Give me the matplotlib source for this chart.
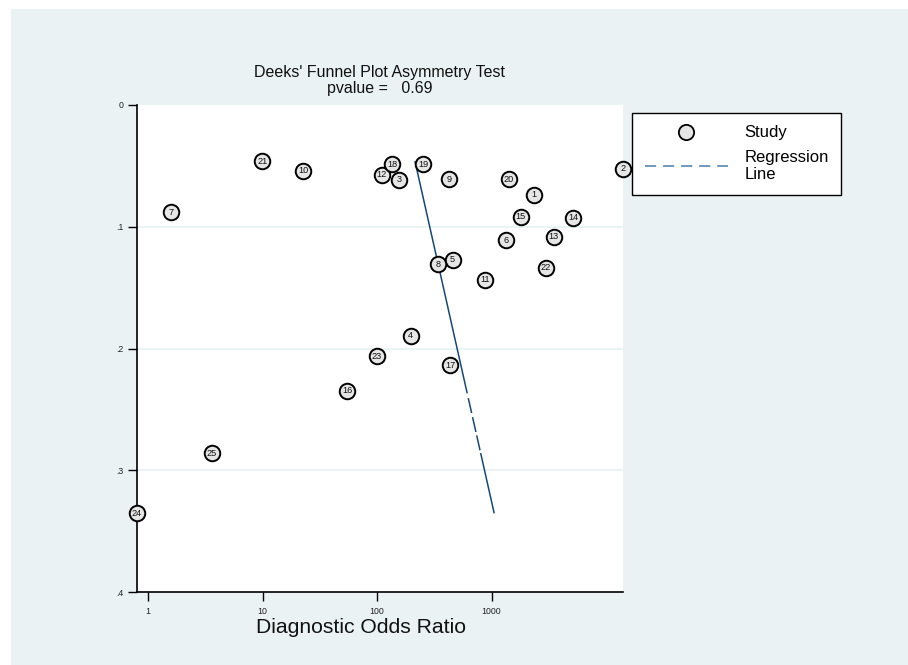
import numpy as np
import matplotlib
matplotlib.use("Agg")
import matplotlib.pyplot as plt
from matplotlib.lines import Line2D
from matplotlib.patches import Rectangle

plt.rcParams['font.family'] = ['Liberation Sans', 'DejaVu Sans']
plt.rcParams['lines.scale_dashes'] = False

# ---- data ----
study_ids = [1, 2, 3, 4, 5, 6, 7, 8, 9, 10, 11, 12, 13, 14, 15, 16, 17, 18, 19, 20, 21, 22, 23, 24, 25]
dor = [2366, 14160, 155, 197, 458, 1339, 1.59, 339, 428, 22.7, 878, 110, 3493, 5150, 1799,
       54.7, 434, 135, 254, 1413, 9.96, 2973, 100, 0.797, 3.62]
inv_sqrt_ess = [0.0739, 0.0523, 0.0614, 0.1895, 0.1273, 0.1111, 0.0879, 0.1306, 0.0608, 0.0542,
                0.1437, 0.0572, 0.1082, 0.0926, 0.0917, 0.2347, 0.2136, 0.0487, 0.0487, 0.0608,
                0.0460, 0.1336, 0.2062, 0.3354, 0.2861]
reg_intercept_log10 = 2.221
reg_slope_log10 = 2.393
x_ticks = [1, 10, 100, 1000]
x_ticklabels = ["1", "10", "100", "1000"]
y_ticks = [0, 0.1, 0.2, 0.3, 0.4]
y_ticklabels = ["0", ".1", ".2", ".3", ".4"]
title1 = "Deeks' Funnel Plot Asymmetry Test"
title2 = "pvalue =   0.69"
xlabel = "Diagnostic Odds Ratio"

BG = '#EAF2F3'
NAVY = '#1a476f'
W, H = 908, 665

fig = plt.figure(figsize=(W / 100, H / 100), dpi=100, facecolor='white')
fig.patches.append(Rectangle((11 / W, 0), 1, 1 - 9 / H, transform=fig.transFigure,
                             facecolor=BG, edgecolor='none', zorder=-10))

ax = fig.add_axes([137 / W, 1 - 592 / H, 486 / W, 487 / H])
ax.set_facecolor('white')
ax.set_xscale('log')
ax.set_xlim(0.8015, 14070)
ax.set_ylim(0.4, 0)

for s in ['top', 'right']:
    ax.spines[s].set_visible(False)
for s in ['left', 'bottom']:
    ax.spines[s].set_color('black')
    ax.spines[s].set_linewidth(1.2)

ax.set_xticks(x_ticks)
ax.set_xticklabels(x_ticklabels)
ax.xaxis.set_minor_locator(matplotlib.ticker.NullLocator())
ax.set_yticks(y_ticks)
ax.set_yticklabels(y_ticklabels)
ax.tick_params(axis='both', length=6.5, width=1.0, color='black', labelsize=6.3,
               labelcolor='#222222')
ax.tick_params(axis='x', pad=4)
ax.tick_params(axis='y', pad=3)

for yv in y_ticks[1:-1]:
    ax.axhline(yv, color=BG, lw=1.3, zorder=0.5)

# regression line
y_line = np.array([min(inv_sqrt_ess), max(inv_sqrt_ess)])
x_line = 10 ** (reg_intercept_log10 + reg_slope_log10 * y_line)
ax.plot(x_line, y_line, color=NAVY, lw=1.1, zorder=2,
        dashes=(171.5, 3.5, 11, 3, 11, 2.5, 11, 2, 60))

# studies
ax.scatter(dor, inv_sqrt_ess, s=125, facecolor='#E6E6E6', edgecolor='black',
           linewidths=1.4, zorder=3, clip_on=False)
for sid, xv, yv in zip(study_ids, dor, inv_sqrt_ess):
    ax.text(xv, yv, str(sid), ha='center', va='center', fontsize=6.6,
            color='#111111', zorder=4, clip_on=False)

# titles
fig.text(380 / W, 1 - 72 / H, title1, ha='center', va='center', fontsize=11.5, color='#111111')
fig.text(380 / W, 1 - 88 / H, title2, ha='center', va='center', fontsize=11.5, color='#111111')
fig.text(361 / W, 1 - 633 / H, xlabel, ha='center', va='baseline', fontsize=15.2, color='#111111')

# legend
handles = [
    Line2D([], [], linestyle='none', marker='o', markersize=11, markerfacecolor='#E6E6E6',
           markeredgecolor='black', markeredgewidth=1.3),
    Line2D([], [], color='#4a7aa8', lw=1.1, dashes=(8, 5)),
]
leg = fig.legend(handles, ['Study', 'Regression\nLine'], loc='upper left',
                 bbox_to_anchor=(632 / W, 1 - 113 / H), borderaxespad=0,
                 fontsize=12, handlelength=5.0, handletextpad=1.0,
                 borderpad=0.75, labelspacing=0.55, fancybox=False, frameon=True)
leg.get_frame().set_edgecolor('black')
leg.get_frame().set_linewidth(1.0)
leg.get_frame().set_facecolor('white')
leg.get_frame().set_alpha(1)

fig.savefig('out.png', dpi=100, facecolor=fig.get_facecolor())
